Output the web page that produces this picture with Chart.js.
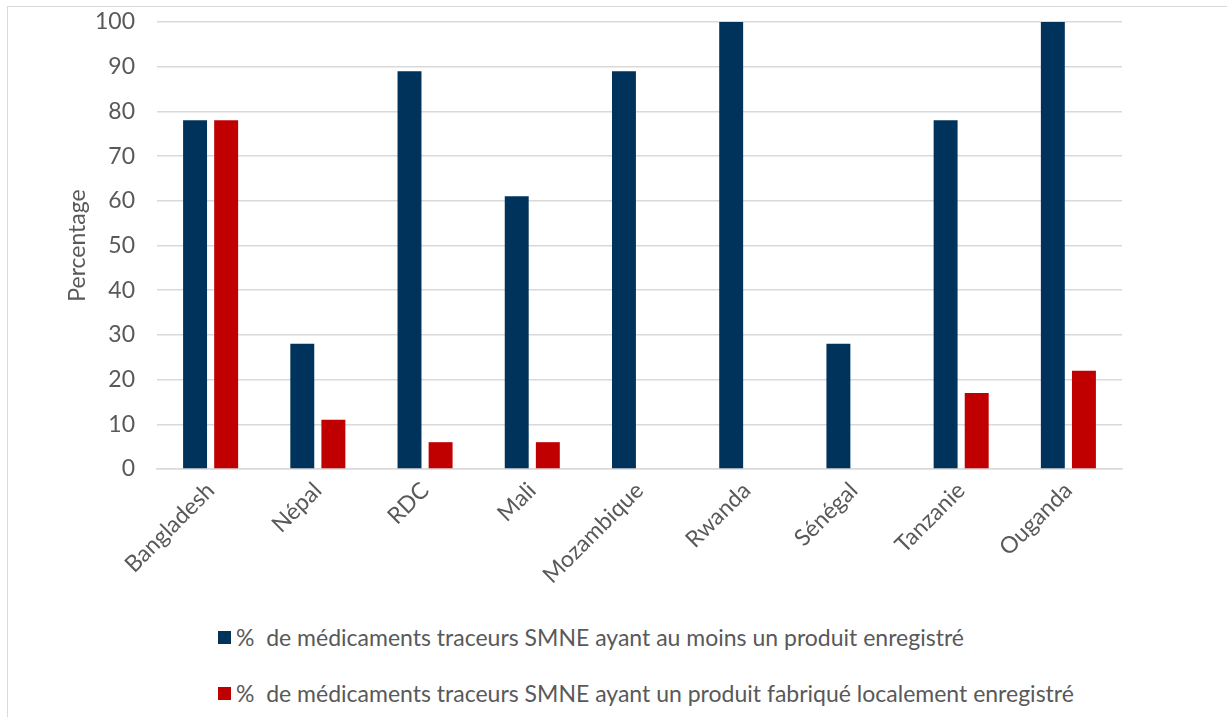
<!DOCTYPE html>
<html>
<head>
<meta charset="utf-8">
<script src="https://cdn.jsdelivr.net/npm/chart.js@4.4.0/dist/chart.umd.min.js"></script>
<style>
  body { margin: 0; background: #fff; font-family: Lato, "Open Sans", sans-serif; }
  #frame { position: absolute; left: 7px; top: 6px; width: 1240px; height: 730px;
           border-top: 1.5px solid #d9d9d9; border-left: 1.5px solid #d9d9d9; }
  #wrap { position: absolute; left: 0; top: 0; width: 1227px; height: 600px; }
  #legend { position: absolute; left: 218px; top: 622px; color: #595959; font-size: 23px; }
  .item { display: flex; align-items: center; height: 30px; margin-bottom: 26px; white-space: pre; }
  .box { width: 13px; height: 13px; margin-right: 5px; }
</style>
</head>
<body>
<div id="frame"></div>
<div id="wrap"><canvas id="chart"></canvas></div>
<div id="legend"></div>
<script>
const countries = ["Bangladesh", "Népal", "RDC", "Mali", "Mozambique", "Rwanda", "Sénégal", "Tanzanie", "Ouganda"];
const registered = [78, 28, 89, 61, 89, 100, 28, 78, 100];
const localMade = [78, 11, 6, 6, 0, 0, 0, 17, 22];
const seriesNames = [
  "%  de médicaments traceurs SMNE ayant au moins un produit enregistré",
  "%  de médicaments traceurs SMNE ayant un produit fabriqué localement enregistré"
];
const colors = ["#00335B", "#C00000"];

const textColor = "#595959";
const gridColor = "#d9d9d9";
const font = { family: "Lato", size: 23 };

const chart = new Chart(document.getElementById("chart"), {
  type: "bar",
  data: {
    labels: countries,
    datasets: [
      { label: seriesNames[0], data: registered, backgroundColor: colors[0] },
      { label: seriesNames[1], data: localMade, backgroundColor: colors[1] }
    ]
  },
  options: {
    responsive: true,
    maintainAspectRatio: false,
    animation: false,
    layout: { padding: { left: 60, right: 105, top: 22, bottom: 11 } },
    datasets: { bar: { categoryPercentage: 0.58, barPercentage: 0.77 } },
    plugins: {
      legend: { display: false },
      tooltip: { enabled: false }
    },
    scales: {
      x: {
        afterFit: (scale) => { scale.height = 120; },
        grid: { display: false, drawTicks: false },
        border: { color: gridColor, width: 1.5 },
        ticks: { color: textColor, font, maxRotation: 45, minRotation: 45, padding: 8 }
      },
      y: {
        min: 0, max: 100,
        afterFit: (scale) => { scale.width = 97; scale.paddingTop = 0; scale.paddingBottom = 0; },
        grid: { color: gridColor, lineWidth: 1.5, drawTicks: false },
        border: { display: false },
        ticks: { stepSize: 10, color: textColor, font, padding: 22 },
        title: {
          display: true, text: "Percentage", color: textColor,
          font, padding: { top: 4, bottom: 10 }
        }
      }
    }
  }
});

const legend = document.getElementById("legend");
chart.data.datasets.forEach(ds => {
  const row = document.createElement("div");
  row.className = "item";
  row.innerHTML = `<span class="box" style="background:${ds.backgroundColor}"></span><span>${ds.label}</span>`;
  legend.appendChild(row);
});
</script>
</body>
</html>
